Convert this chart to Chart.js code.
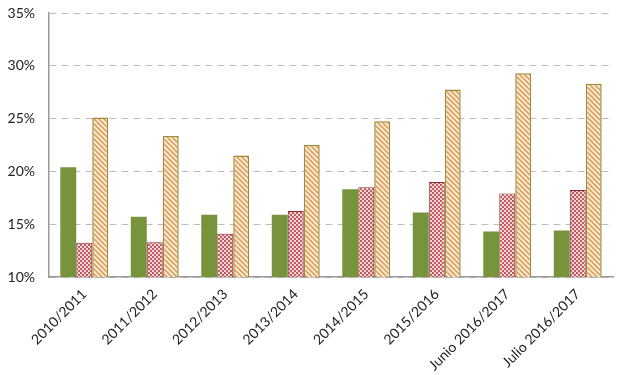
<!DOCTYPE html>
<html>
<head>
<meta charset="utf-8">
<script src="https://cdn.jsdelivr.net/npm/chart.js@4/dist/chart.umd.min.js"></script>
<style>
html,body{margin:0;padding:0;background:#fff;}
#wrap{width:620px;height:375px;position:relative;}
</style>
</head>
<body>
<div id="wrap"><canvas id="c" width="620" height="375"></canvas></div>
<script>
const categories = ["2010/2011","2011/2012","2012/2013","2013/2014","2014/2015","2015/2016","Junio 2016/2017","Julio 2016/2017"];
const seriesA = [20.4, 15.7, 15.9, 15.9, 18.3, 16.1, 14.3, 14.4];
const seriesB = [13.25, 13.3, 14.1, 16.25, 18.5, 19.0, 17.9, 18.25];
const seriesC = [25.1, 23.35, 21.5, 22.5, 24.75, 27.75, 29.3, 28.3];
const yTicks = [10, 15, 20, 25, 30, 35];

function checkPattern(){
  const p = document.createElement('canvas'); p.width = 4; p.height = 4;
  const g = p.getContext('2d');
  g.fillStyle = '#f2d6d6'; g.fillRect(0,0,4,4);
  g.fillStyle = '#bf5a62';
  g.fillRect(0,0,2,2); g.fillRect(2,2,2,2);
  return g.createPattern(p,'repeat');
}
function stripePattern(){
  const s = 5;
  const p = document.createElement('canvas'); p.width = s; p.height = s;
  const g = p.getContext('2d');
  g.fillStyle = '#fdf1dc'; g.fillRect(0,0,s,s);
  g.strokeStyle = '#dfa060'; g.lineWidth = 1.8;
  g.beginPath();
  g.moveTo(-1,-1); g.lineTo(s+1,s+1);
  g.moveTo(-1,s-1); g.lineTo(1,s+1);
  g.moveTo(s-1,-1); g.lineTo(s+1,1);
  g.stroke();
  return g.createPattern(p,'repeat');
}

const ctx = document.getElementById('c').getContext('2d');
new Chart(ctx, {
  type: 'bar',
  data: {
    labels: categories,
    datasets: [
      {data: seriesA, backgroundColor: '#77933c', borderColor: '#77933c', borderWidth: 0},
      {data: seriesB, backgroundColor: checkPattern(), borderColor: '#8c2d2d', borderWidth: 1},
      {data: seriesC, backgroundColor: stripePattern(), borderColor: '#9c8c3c', borderWidth: 1.5}
    ]
  },
  options: {
    responsive: false,
    animation: false,
    devicePixelRatio: 1,
    layout: {padding: {top: 0, right: 7, left: 0, bottom: 0}},
    plugins: {legend: {display: false}, tooltip: {enabled: false}},
    datasets: {bar: {categoryPercentage: 0.68, barPercentage: 1.0}},
    scales: {
      x: {
        grid: {display: false, drawTicks: false},
        border: {display: true, color: '#9a9a9a', width: 1.5},
        ticks: {
          color: '#222', font: {family: 'Lato', size: 14},
          minRotation: 45, maxRotation: 45, autoSkip: false, padding: 9
        },
        afterFit: s => { s.height = 98; }
      },
      y: {
        min: 10, max: 35,
        afterBuildTicks: s => { s.ticks = yTicks.map(v => ({value: v})); },
        grid: {color: '#bdbdbd', lineWidth: 1, drawTicks: false},
        border: {display: true, color: '#9a9a9a', width: 1.5, dash: [7,5]},
        ticks: {
          color: '#222', font: {family: 'Lato', size: 14},
          padding: 14,
          callback: v => v + '%'
        },
        afterFit: s => { s.width = 49; s.paddingTop = 13; s.paddingBottom = 0; }
      }
    }
  }
});
</script>
</body>
</html>
